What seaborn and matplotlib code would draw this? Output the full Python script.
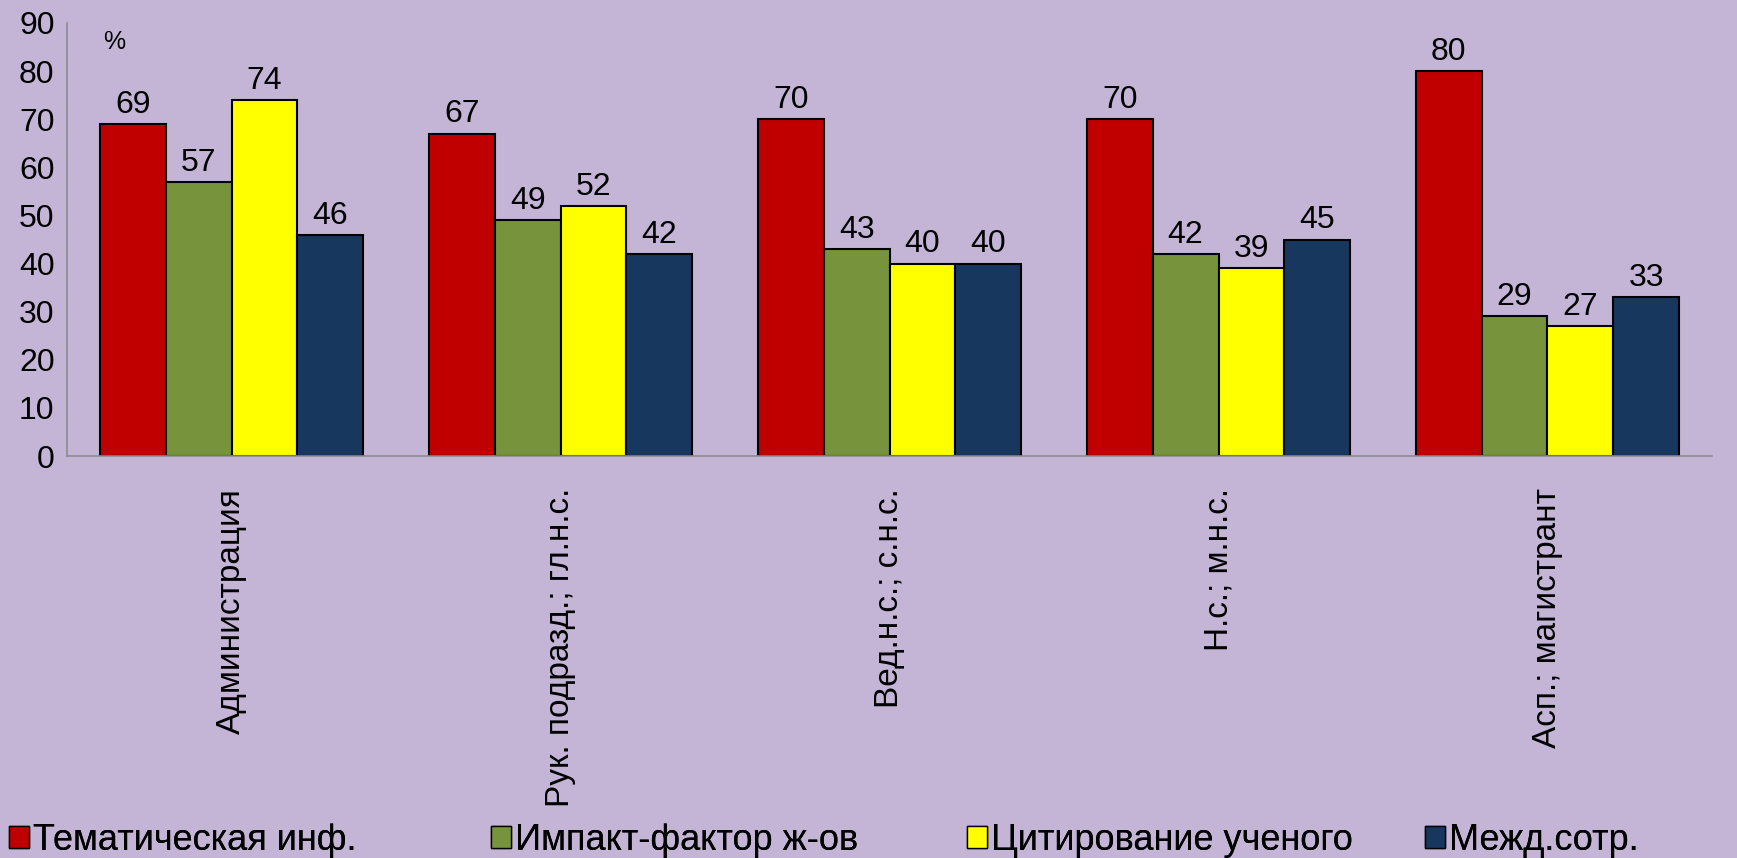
import matplotlib
matplotlib.use("Agg")
import matplotlib.pyplot as plt
from matplotlib.patches import Patch
from matplotlib.ticker import FixedLocator
import pandas as pd
import seaborn as sns

groups = ["Администрация", "Рук. подразд.; гл.н.с.", "Вед.н.с.; с.н.с.",
          "Н.с.; м.н.с.", "Асп.; магистрант"]
series = ["Тематическая инф.", "Импакт-фактор ж-ов", "Цитирование ученого", "Межд.сотр."]
tema = [69, 67, 70, 70, 80]
impact = [57, 49, 43, 42, 29]
citir = [74, 52, 40, 39, 27]
mezhd = [46, 42, 40, 45, 33]
colors = ["#C00000", "#77933C", "#FFFF00", "#17375E"]
BG = "#C4B5D6"

rows = []
for name, vals in zip(series, [tema, impact, citir, mezhd]):
    for g, v in zip(groups, vals):
        rows.append({"group": g, "series": name, "value": v})
df = pd.DataFrame(rows)

sns.set_style("white")
plt.rcParams["font.family"] = ["Liberation Sans", "DejaVu Sans"]
plt.rcParams["text.color"] = "black"

fig = plt.figure(figsize=(17.37, 8.58), dpi=100, facecolor=BG)
ax = fig.add_axes([0.0386, 0.4685, 0.947, 0.5047])
ax.set_facecolor(BG)

sns.barplot(data=df, x="group", y="value", hue="series", palette=colors,
            edgecolor="black", linewidth=1.5, width=0.8, saturation=1,
            legend=False, ax=ax)

for cont in ax.containers:
    ax.bar_label(cont, fmt="%d", padding=3, fontsize=23, color="black")

ax.set_ylim(0, 90)
ax.set_yticks(range(0, 91, 10))
ax.set_xlim(-0.5, 4.5)
ax.set_xlabel("")
ax.set_ylabel("")
for s in ["top", "right"]:
    ax.spines[s].set_visible(False)
for s in ["left", "bottom"]:
    ax.spines[s].set_color("#8C8C8C")
    ax.spines[s].set_linewidth(1.2)

ax.tick_params(axis="y", which="major", direction="out", length=6, width=1,
               color="#8C8C8C", labelcolor="black", labelsize=23, pad=3)
ax.tick_params(axis="x", which="major", length=0, labelsize=24, pad=23,
               labelcolor="black", labelrotation=90)
ax.xaxis.set_minor_locator(FixedLocator([-0.5, 0.5, 1.5, 2.5, 3.5, 4.5]))
ax.tick_params(axis="x", which="minor", direction="out", length=8, width=1,
               color="#8C8C8C")
for lbl in ax.get_xticklabels():
    lbl.set_verticalalignment("top")

ax.text(0.0286, 0.955, "%", transform=ax.transAxes, fontsize=18,
        ha="center", va="center")

# legend entries placed one by one along the bottom
legend_x = [0.003, 0.2806, 0.5548, 0.8183]
for c, name, lx in zip(colors, series, legend_x):
    h = Patch(facecolor=c, edgecolor="black", linewidth=1)
    leg = fig.legend([h], [name], loc="lower left", bbox_to_anchor=(lx, -0.004),
                     frameon=False, fontsize=26, handlelength=0.55, handleheight=0.55,
                     handletextpad=0.12, borderpad=0.1, borderaxespad=0.0)
    fig.add_artist(leg)

fig.savefig("out.png", dpi=100, facecolor=BG)
